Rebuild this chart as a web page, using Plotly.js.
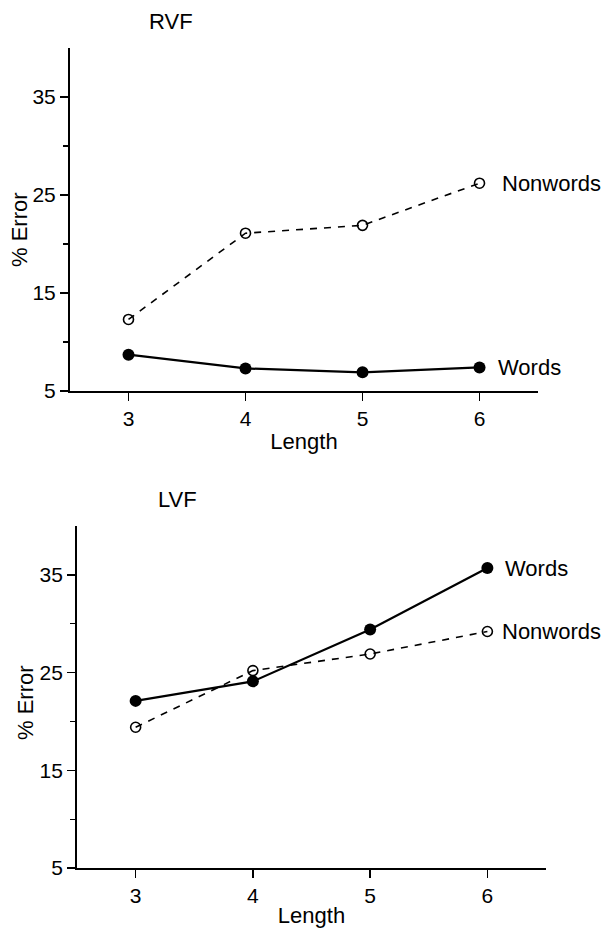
<!DOCTYPE html>
<html>
<head>
<meta charset="utf-8">
<script src="https://cdn.plot.ly/plotly-3.0.1.min.js"></script>
<style>html,body{margin:0;padding:0;background:#fff;}#chart{width:605px;height:928px;}</style>
</head>
<body>
<div id="chart"></div>
<script>
// Data
const lengths = [3, 4, 5, 6];
const rvfWords = [8.7, 7.3, 6.9, 7.4];
const rvfNonwords = [12.3, 21.1, 21.9, 26.2];
const lvfWords = [22.1, 24.1, 29.4, 35.7];
const lvfNonwords = [19.4, 25.2, 26.9, 29.2];
const yMajorTicks = [5, 15, 25, 35];
const yMinorTicks = [10, 20, 30];
const panelTitles = ["RVF", "LVF"];
const seriesNames = ["Words", "Nonwords"];
const xTitle = "Length";
const yTitle = "% Error";

const FONT = "Liberation Sans, Arial, Helvetica, sans-serif";
const black = "#000";

function wordsTrace(y, xa, ya) {
  return {x: lengths, y: y, xaxis: xa, yaxis: ya, type: "scatter", mode: "lines+markers",
    name: seriesNames[0], line: {color: black, width: 2.2},
    marker: {symbol: "circle", size: 12, color: black}};
}
function nonwordsTrace(y, xa, ya) {
  return {x: lengths, y: y, xaxis: xa, yaxis: ya, type: "scatter", mode: "lines+markers",
    name: seriesNames[1], line: {color: black, width: 1.6, dash: "7px,7px"},
    marker: {symbol: "circle-open", size: 10, color: black, line: {color: black, width: 1.6}}};
}

const data = [
  nonwordsTrace(rvfNonwords, "x", "y"),
  wordsTrace(rvfWords, "x", "y"),
  nonwordsTrace(lvfNonwords, "x2", "y2"),
  wordsTrace(lvfWords, "x2", "y2")
];

function xAxis(domain, anchor) {
  return {domain: domain, anchor: anchor, range: [2.5, 6.5], tickmode: "array", tickvals: lengths,
    ticks: "outside", ticklen: 8, tickwidth: 1.5, tickcolor: black,
    showline: true, linewidth: 2, linecolor: black, showgrid: false, zeroline: false,
    tickfont: {family: FONT, size: 21, color: black},
    title: {text: xTitle, font: {family: FONT, size: 22, color: black}, standoff: 4}};
}
function yAxis(domain, anchor) {
  return {domain: domain, anchor: anchor, range: [5, 40], tickmode: "array", tickvals: yMajorTicks,
    ticks: "outside", ticklen: 8, tickwidth: 1.5, tickcolor: black,
    minor: {tickmode: "array", tickvals: yMinorTicks, ticks: "outside", ticklen: 5, tickwidth: 1.2, tickcolor: black},
    showline: true, linewidth: 2, linecolor: black, showgrid: false, zeroline: false,
    tickfont: {family: FONT, size: 21, color: black}};
}

const last = lengths.length - 1;
function label(text, xv, yv, xr, yr, shift) {
  return {text: text, x: xv, y: yv, xref: xr, yref: yr, xanchor: "left", yanchor: "middle",
    xshift: shift, showarrow: false, font: {family: FONT, size: 22, color: black}};
}
function paperText(text, px, py, angle) {
  return {text: text, x: px / 605, y: 1 - py / 928, xref: "paper", yref: "paper",
    xanchor: "center", yanchor: "middle", showarrow: false, textangle: angle || 0,
    font: {family: FONT, size: 22, color: black}};
}

const layout = {
  width: 605, height: 928,
  margin: {l: 0, r: 0, t: 0, b: 0},
  paper_bgcolor: "#fff", plot_bgcolor: "#fff",
  showlegend: false,
  xaxis: xAxis([0.1157, 0.8893], "y"),
  yaxis: yAxis([0.5787, 0.9483], "x"),
  xaxis2: xAxis([0.1273, 0.9025], "y2"),
  yaxis2: yAxis([0.0647, 0.4332], "x2"),
  annotations: [
    paperText(panelTitles[0], 171, 21),
    paperText(panelTitles[1], 177, 499),
    paperText(yTitle, 20, 230, -90),
    paperText(yTitle, 25, 703, -90),
    label(seriesNames[1], lengths[last], rvfNonwords[last], "x", "y", 20),
    label(seriesNames[0], lengths[last], rvfWords[last], "x", "y", 16),
    label(seriesNames[0], lengths[last], lvfWords[last], "x2", "y2", 16),
    label(seriesNames[1], lengths[last], lvfNonwords[last], "x2", "y2", 13)
  ]
};

Plotly.newPlot("chart", data, layout, {displayModeBar: false, staticPlot: true});
</script>
</body>
</html>
